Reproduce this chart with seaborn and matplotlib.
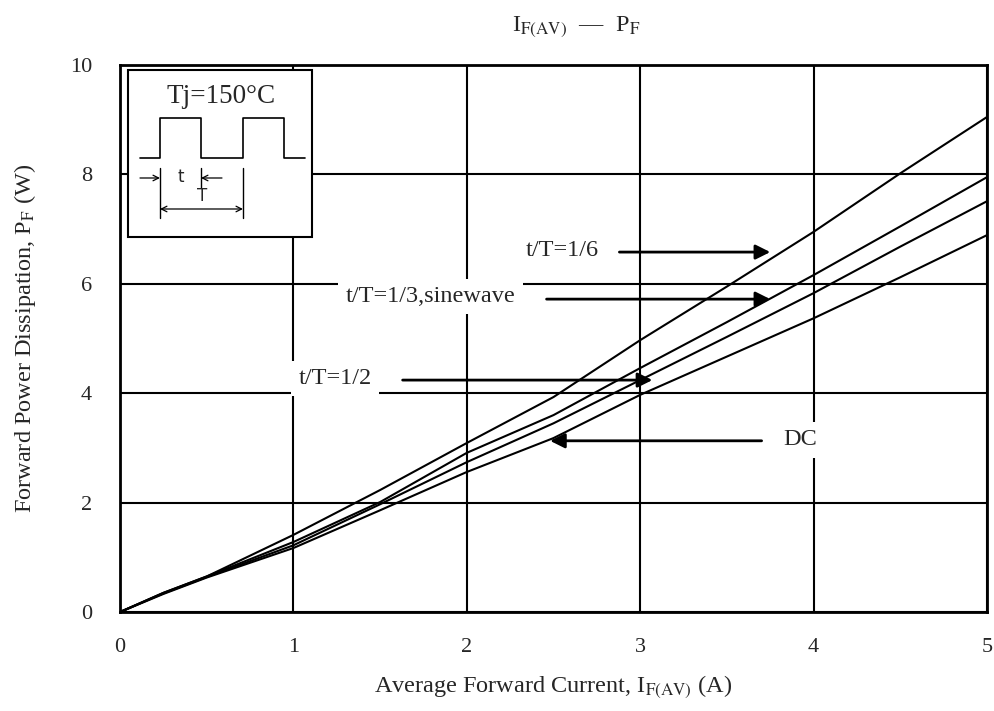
import numpy as np
import pandas as pd
import matplotlib
matplotlib.use("Agg")
import matplotlib.pyplot as plt
import seaborn as sns
from matplotlib.patches import Rectangle

# values
current = [0, 0.25, 0.5, 1, 1.5, 2, 2.5, 3, 3.5, 4, 4.5, 5]
pf_sixth = [0, 0.35, 0.65, 1.41, 2.23, 3.09, 3.93, 4.97, 5.95, 6.95, 8.02, 9.05]
pf_third = [0, 0.35, 0.65, 1.28, 2.01, 2.91, 3.60, 4.46, 5.30, 6.16, 7.05, 7.95]
pf_half = [0, 0.34, 0.64, 1.22, 1.97, 2.74, 3.45, 4.24, 5.03, 5.83, 6.68, 7.51]
pf_dc = [0, 0.33, 0.63, 1.17, 1.86, 2.56, 3.18, 3.97, 4.67, 5.37, 6.12, 6.89]
series_names = ["t/T=1/6", "t/T=1/3,sinewave", "t/T=1/2", "DC"]

sns.set_style("white")
plt.rcParams["font.family"] = ["Liberation Serif", "DejaVu Serif"]
plt.rcParams["mathtext.fontset"] = "stix"

df = pd.DataFrame({
    "I": current * 4,
    "P": pf_sixth + pf_third + pf_half + pf_dc,
    "case": np.repeat(series_names, len(current)),
})

fig = plt.figure(figsize=(9.94, 7.11), dpi=100)
ax = fig.add_axes([0.1207, 0.1392, 0.8723, 0.7694])

sns.lineplot(data=df, x="I", y="P", units="case", estimator=None,
             color="black", linewidth=1.5, ax=ax, legend=False, zorder=3)

ax.set_xlim(0, 5)
ax.set_ylim(0, 10)
ax.set_xticks(range(0, 6))
ax.set_yticks(range(0, 11, 2))
ax.grid(True, color="black", linewidth=1.5)
ax.set_axisbelow(True)
for s in ax.spines.values():
    s.set_color("black")
    s.set_linewidth(2)
ax.tick_params(length=0, labelsize=16)
ax.tick_params(axis="x", pad=19)
ax.tick_params(axis="y", pad=20)

ax.set_xlabel(r"Average Forward Current, I$_{\mathrm{F(AV)}}$ (A)", fontsize=17.5, labelpad=11)
ax.set_ylabel(r"Forward Power Dissipation, P$_{\mathrm{F}}$ (W)", fontsize=17.5, labelpad=23)
fig.text(0.58, 0.962, r"I$_{\mathrm{F(AV)}}$  —  P$_{\mathrm{F}}$",
         ha="center", va="center", fontsize=17.5)

# curve labels with arrows
box = dict(boxstyle="square,pad=0.3", fc="white", ec="none")
arrow = dict(arrowstyle="-|>", color="black", lw=2, mutation_scale=22, shrinkA=0, shrinkB=0)
lab = dict(fontsize=17.5, ha="center", va="center", bbox=box, zorder=4)
ax.text(2.55, 6.6, series_names[0], **lab)
ax.annotate("", xy=(3.75, 6.58), xytext=(2.88, 6.58), arrowprops=arrow, zorder=4)
ax.text(1.79, 5.77, series_names[1], **lab)
ax.annotate("", xy=(3.75, 5.72), xytext=(2.46, 5.72), arrowprops=arrow, zorder=4)
ax.text(1.24, 4.27, series_names[2], **lab)
ax.annotate("", xy=(3.07, 4.24), xytext=(1.63, 4.24), arrowprops=arrow, zorder=4)
ax.text(3.92, 3.15, series_names[3], **lab)
ax.annotate("", xy=(2.48, 3.13), xytext=(3.7, 3.13), arrowprops=arrow, zorder=4)

# inset with the waveform sketch (axes fraction coordinates)
def fx(px):
    return (px - 120) / 867

def fy(py):
    return (612 - py) / 547

tr = ax.transAxes
ax.add_patch(Rectangle((fx(128), fy(237)), fx(312) - fx(128), fy(70) - fy(237),
                       transform=tr, fc="white", ec="black", lw=1.5, zorder=5))
ax.text(fx(221), fy(97), "Tj=150°C", transform=tr, fontsize=19.5, ha="center", va="center", zorder=6)
wave_x = [140, 160, 160, 201, 201, 243, 243, 284, 284, 305]
wave_y = [158, 158, 118, 118, 158, 158, 118, 118, 158, 158]
ax.plot([fx(v) for v in wave_x], [fy(v) for v in wave_y], transform=tr,
        color="black", lw=1.2, zorder=6)
for xv, y0, y1 in [(160, 168, 218), (201, 168, 188), (243, 168, 218)]:
    ax.plot([fx(xv), fx(xv)], [fy(y0), fy(y1)], transform=tr, color="black", lw=1, zorder=6)
small = dict(arrowstyle="->", color="black", lw=0.9, shrinkA=0, shrinkB=0)
ax.annotate("", xy=(fx(160), fy(178)), xytext=(fx(140), fy(178)), xycoords=tr,
            textcoords=tr, arrowprops=small, zorder=6)
ax.annotate("", xy=(fx(201), fy(178)), xytext=(fx(222), fy(178)), xycoords=tr,
            textcoords=tr, arrowprops=small, zorder=6)
ax.annotate("", xy=(fx(243), fy(209)), xytext=(fx(160), fy(209)), xycoords=tr,
            textcoords=tr, arrowprops=dict(arrowstyle="<->", color="black", lw=0.9,
                                           shrinkA=0, shrinkB=0), zorder=6)
ax.text(fx(181), fy(177), "t", transform=tr, fontsize=12, ha="center", va="center",
        family="DejaVu Sans", zorder=6)
ax.text(fx(202), fy(196), "T", transform=tr, fontsize=12, ha="center", va="center",
        family="DejaVu Sans", zorder=6)

fig.savefig("out.png", dpi=100)
